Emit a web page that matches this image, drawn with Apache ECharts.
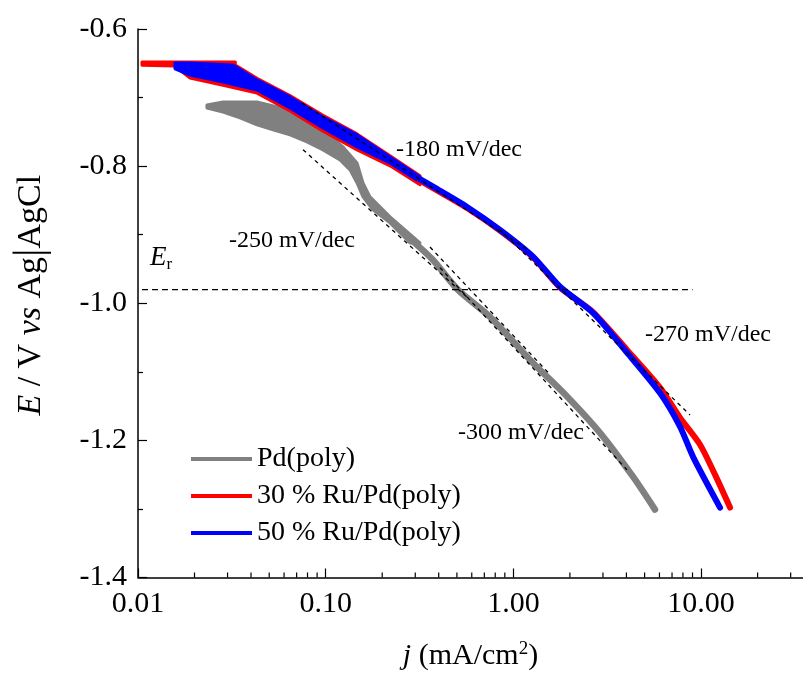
<!DOCTYPE html>
<html>
<head>
<meta charset="utf-8">
<script src="https://cdn.jsdelivr.net/npm/echarts@6/dist/echarts.min.js"></script>
<style>html,body{margin:0;padding:0;background:#fff;}#c{width:803px;height:676px;}</style>
</head>
<body>
<div id="c"></div>
<script>
// ---- data (j in mA/cm2, E in V vs Ag|AgCl) ----
// Pd(poly): noisy band at low current (upper / lower edges), then single trace
const pdBandUpperJ = [0.0233,0.02838,0.04305,0.06452,0.09674,0.1237,0.1469,0.1580,0.1722,0.2201,0.3180];
const pdBandUpperE = [-0.7108,-0.7064,-0.7064,-0.7181,-0.7472,-0.7720,-0.7953,-0.8245,-0.8449,-0.8741,-0.9120];
const pdBandLowerJ = [0.0233,0.02838,0.03494,0.04305,0.05239,0.06452,0.07947,0.09674,0.1192,0.1347,0.1469,0.1580,0.1786,0.2201,0.2812];
const pdBandLowerE = [-0.7152,-0.7210,-0.7297,-0.7399,-0.7472,-0.7545,-0.7647,-0.7764,-0.7910,-0.8055,-0.8245,-0.8449,-0.8638,-0.8828,-0.9120];
const pdJ = [0.298,0.373,0.507,0.751,1.272,1.931,2.893,4.337,5.68];
const pdE = [-0.912,-0.937,-0.9805,-1.020,-1.087,-1.136,-1.189,-1.253,-1.301];

// 30 % Ru/Pd(poly)
const ru30BandUpperJ = [0.0105,0.0330,0.0330,0.04305,0.06452,0.09674,0.1469,0.2201,0.3180];
const ru30BandUpperE = [-0.6481,-0.6481,-0.6525,-0.6720,-0.6970,-0.7260,-0.7530,-0.7850,-0.8140];
const ru30BandLowerJ = [0.0105,0.01574,0.01892,0.02838,0.04305,0.06452,0.09674,0.1469,0.2201,0.3180];
const ru30BandLowerE = [-0.6530,-0.6540,-0.6714,-0.6820,-0.6935,-0.7195,-0.7490,-0.7765,-0.7995,-0.8270];
const ru30J = [0.318,0.373,0.566,0.848,1.272,1.772,2.655,4.03,6.04,7.72,9.86,11.86,14.26];
const ru30E = [-0.821,-0.832,-0.861,-0.894,-0.933,-0.977,-1.013,-1.068,-1.123,-1.167,-1.206,-1.250,-1.298];

// 50 % Ru/Pd(poly)
const ru50BandUpperJ = [0.01574,0.01892,0.03207,0.04305,0.06452,0.09674,0.1469,0.2201,0.3180];
const ru50BandUpperE = [-0.6496,-0.6496,-0.6525,-0.6743,-0.6991,-0.7283,-0.7545,-0.7866,-0.8157];
const ru50BandLowerJ = [0.01574,0.01892,0.02838,0.04305,0.06452,0.09674,0.1469,0.2201,0.3180];
const ru50BandLowerE = [-0.6580,-0.6671,-0.6773,-0.6889,-0.7152,-0.7443,-0.7720,-0.7953,-0.8230];
const ru50J = [0.318,0.373,0.566,0.848,1.272,1.772,2.655,4.03,6.04,7.72,9.06,12.61];
const ru50E = [-0.819,-0.830,-0.8595,-0.893,-0.932,-0.976,-1.014,-1.072,-1.131,-1.180,-1.224,-1.298];

// Tafel fit lines and reversible potential
const fit180J = [0.0748,1.196];  const fit180E = [-0.708,-0.922];
const fit250J = [0.0757,0.587];  const fit250E = [-0.776,-0.995];
const fit300aJ = [0.406,4.03];   const fit300aE = [-0.948,-1.243];
const fit300bJ = [0.3595,1.567]; const fit300bE = [-0.918,-1.104];
const fit270J = [0.8484,8.73];   const fit270E = [-0.893,-1.163];
const erJ = [0.0105,9.0];        const erE = [-0.98,-0.98];

const minorTickJ = [0.02,0.03,0.04,0.05,0.06,0.07,0.08,0.09,0.2,0.3,0.4,0.5,0.6,0.7,0.8,0.9,2,3,4,5,6,7,8,9,20,30];

const seriesNames = ['Pd(poly)','30 % Ru/Pd(poly)','50 % Ru/Pd(poly)'];
const annotations = ['-180 mV/dec','-250 mV/dec','-270 mV/dec','-300 mV/dec'];

// ---- build ----
const zip = (a,b) => a.map((v,i)=>[v,b[i]]);
const FONT = 'Liberation Serif';
const GRAY='#808080', RED='#ff0000', BLUE='#0000ff';

function curve(name,color,J,E,w){
  return {type:'line',name:name,data:zip(J,E),showSymbol:false,symbol:'none',smooth:0.25,
    lineStyle:{color:color,width:w,cap:'round'},itemStyle:{color:color},silent:true,z:2,animation:false};
}
function band(color,uJ,uE,lJ,lE){
  const up = zip(uJ,uE), lo = zip(lJ,lE).reverse();
  const pts = up.concat(lo);
  return {type:'custom',silent:true,z:2,animation:false,data:[[uJ[0],uE[0]]],
    renderItem:function(params,api){
      const p = pts.map(d=>api.coord(d));
      return {type:'polygon',shape:{points:p},style:{fill:color,stroke:color,lineWidth:3,lineJoin:'round'}};
    }};
}
function dashed(J,E,dash){
  return {type:'line',data:zip(J,E),showSymbol:false,symbol:'none',
    lineStyle:{color:'#000',width:1.3,type:dash||[4,4]},silent:true,z:5,animation:false};
}

const chart = echarts.init(document.getElementById('c'),null,{renderer:'canvas'});
chart.setOption({
  backgroundColor:'#fff',
  animation:false,
  grid:{left:138,top:29,right:0,bottom:98,containLabel:false},
  xAxis:{type:'log',logBase:10,min:0.01,max:34.9,
    name:'{i|j} (mA/cm{sup|2})',nameLocation:'middle',nameGap:62,
    nameTextStyle:{fontFamily:FONT,fontSize:30,color:'#000',
      rich:{i:{fontFamily:FONT,fontStyle:'italic',fontSize:30,color:'#000'},
            sup:{fontFamily:FONT,fontSize:19,color:'#000',padding:[0,0,14,0]}}},
    axisLine:{show:true,lineStyle:{color:'#000',width:1.5}},
    axisTick:{show:true,inside:true,length:9,lineStyle:{color:'#000',width:1.2}},
    minorTick:{show:false},
    splitLine:{show:false},
    axisLabel:{fontFamily:FONT,fontSize:30,color:'#000',margin:12,showMaxLabel:false,
      formatter:function(v){const l=Math.log10(v);return Math.abs(l-Math.round(l))<1e-6?v.toFixed(2):'';}}
  },
  yAxis:{type:'value',min:-1.4,max:-0.6,interval:0.2,
    name:'{i|E} / V {i|vs} Ag{bar||}AgCl',nameLocation:'middle',nameGap:86,nameRotate:90,
    nameTextStyle:{fontFamily:FONT,fontSize:34,color:'#000',padding:[0,0,0,16],
      rich:{i:{fontFamily:FONT,fontStyle:'italic',fontSize:34,color:'#000'},
            bar:{fontFamily:FONT,fontSize:42,color:'#000'}}},
    axisLine:{show:true,lineStyle:{color:'#000',width:1.5}},
    axisTick:{show:true,inside:true,length:9,lineStyle:{color:'#000',width:1.2}},
    minorTick:{show:true,splitNumber:2,length:5,lineStyle:{color:'#000',width:1.2}},
    splitLine:{show:false},
    axisLabel:{fontFamily:FONT,fontSize:30,color:'#000',margin:11,
      formatter:function(v){return v.toFixed(1);}}
  },
  legend:{data:seriesNames,orient:'vertical',left:186,top:440,
    icon:'rect',itemWidth:61,itemHeight:4,itemGap:9,
    textStyle:{fontFamily:FONT,fontSize:28,color:'#000',lineHeight:28},
    selectedMode:false},
  graphic:[
    {type:'text',x:396,y:150,style:{text:annotations[0],font:'24px "Liberation Serif"',fill:'#000',verticalAlign:'middle'}},
    {type:'text',x:229,y:241,style:{text:annotations[1],font:'24px "Liberation Serif"',fill:'#000',verticalAlign:'middle'}},
    {type:'text',x:645,y:335,style:{text:annotations[2],font:'24px "Liberation Serif"',fill:'#000',verticalAlign:'middle'}},
    {type:'text',x:458,y:433,style:{text:annotations[3],font:'24px "Liberation Serif"',fill:'#000',verticalAlign:'middle'}},
    {type:'text',x:150,y:258,style:{text:'{i|E}{s|r}',verticalAlign:'middle',
      rich:{i:{fontFamily:FONT,fontStyle:'italic',fontSize:27,fill:'#000'},
            s:{fontFamily:FONT,fontSize:17,fill:'#000',padding:[14,0,0,0]}}}}
  ],
  series:[
    curve(seriesNames[0],GRAY,pdJ,pdE,6.5),
    band(GRAY,pdBandUpperJ,pdBandUpperE,pdBandLowerJ,pdBandLowerE),
    curve(seriesNames[1],RED,ru30J,ru30E,6),
    band(RED,ru30BandUpperJ,ru30BandUpperE,ru30BandLowerJ,ru30BandLowerE),
    curve(seriesNames[2],BLUE,ru50J,ru50E,6),
    band(BLUE,ru50BandUpperJ,ru50BandUpperE,ru50BandLowerJ,ru50BandLowerE),
    dashed(fit180J,fit180E),
    dashed(fit250J,fit250E),
    dashed(fit300aJ,fit300aE),
    dashed(fit300bJ,fit300bE),
    dashed(fit270J,fit270E),
    dashed(erJ,erE,[6,4]),
    {type:'custom',silent:true,clip:false,z:6,animation:false,
      data:minorTickJ.map(j=>[j,-1.4]),
      renderItem:function(params,api){
        const p=api.coord([api.value(0),api.value(1)]);
        return {type:'line',shape:{x1:p[0],y1:p[1],x2:p[0],y2:p[1]-5},style:{stroke:'#000',lineWidth:1.2}};
      }}
  ]
});
</script>
</body>
</html>
